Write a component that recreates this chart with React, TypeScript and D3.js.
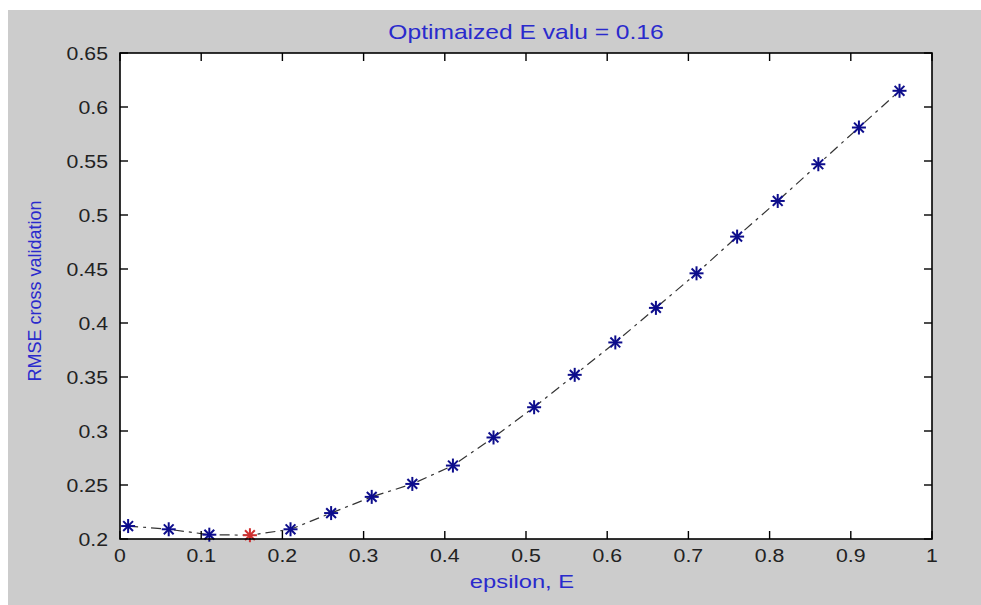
import React from "react";
import * as d3 from "d3";

const epsilonValues = [0.01, 0.06, 0.11, 0.16, 0.21, 0.26, 0.31, 0.36, 0.41, 0.46, 0.51, 0.56, 0.61, 0.66, 0.71, 0.76, 0.81, 0.86, 0.91, 0.96];
const rmseValues = [0.212, 0.209, 0.204, 0.2035, 0.209, 0.224, 0.239, 0.251, 0.268, 0.294, 0.322, 0.352, 0.382, 0.414, 0.446, 0.480, 0.513, 0.547, 0.581, 0.615];
const optimalEpsilon = 0.16;
const xTicks = [0, 0.1, 0.2, 0.3, 0.4, 0.5, 0.6, 0.7, 0.8, 0.9, 1];
const yTicks = [0.2, 0.25, 0.3, 0.35, 0.4, 0.45, 0.5, 0.55, 0.6, 0.65];
const titleText = "Optimaized E valu = 0.16";
const xLabelText = "epsilon, E";
const yLabelText = "RMSE cross validation";

const W = 981;
const H = 605;
const left = 120, right = 932, top = 53, bottom = 539;
const FONT = "'Liberation Sans', Arial, sans-serif";
const BLUE_TEXT = "#2a2acc";
const MARK = "#0d0d8c";
const RED = "#d03030";

function Star({ x, y, color }: { x: number; y: number; color: string }) {
  const r = 7;
  const d = r * 0.7;
  return (
    <g stroke={color} strokeWidth={2}>
      <line x1={x - r} y1={y} x2={x + r} y2={y} />
      <line x1={x} y1={y - r} x2={x} y2={y + r} />
      <line x1={x - d} y1={y - d} x2={x + d} y2={y + d} />
      <line x1={x - d} y1={y + d} x2={x + d} y2={y - d} />
      <circle cx={x} cy={y} r={2} fill={color} stroke="none" />
    </g>
  );
}

function SText({ x, y, sx = 1, children, ...rest }: any) {
  return (
    <text transform={`translate(${x},${y}) scale(${sx},1)`} fontFamily={FONT} {...rest}>
      {children}
    </text>
  );
}

export default function App() {
  const xScale = d3.scaleLinear().domain([0, 1]).range([left, right]);
  const yScale = d3.scaleLinear().domain([0.2, 0.65]).range([bottom, top]);
  const pts = epsilonValues.map((e, i) => [e, rmseValues[i]] as [number, number]);
  const line = d3
    .line<[number, number]>()
    .x((d) => xScale(d[0]))
    .y((d) => yScale(d[1]));
  const tl = 8;
  return (
    <svg width={W} height={H} style={{ position: "absolute", left: 0, top: 0 }}>
      <rect x={0} y={0} width={W} height={H} fill="#ffffff" />
      <rect x={8} y={10} width={W - 8} height={H - 10} fill="#cccccc" />
      <rect x={left} y={top} width={right - left} height={bottom - top} fill="#ffffff" />
      <path d={line(pts) || ""} fill="none" stroke="#333" strokeWidth={1.2} strokeDasharray="10,5,3,5" />
      {pts.map((p, i) => (
        <Star key={i} x={xScale(p[0])} y={yScale(p[1])} color={p[0] === optimalEpsilon ? RED : MARK} />
      ))}
      <rect x={left} y={top} width={right - left} height={bottom - top} fill="none" stroke="#000" strokeWidth={1.6} />
      {xTicks.map((t) => (
        <g key={"x" + t}>
          <line x1={xScale(t)} x2={xScale(t)} y1={bottom} y2={bottom - tl} stroke="#000" strokeWidth={1.4} />
          <line x1={xScale(t)} x2={xScale(t)} y1={top} y2={top + tl} stroke="#000" strokeWidth={1.4} />
          <SText x={xScale(t)} y={562} sx={1.12} fontSize={19} textAnchor="middle" fill="#222">
            {String(t)}
          </SText>
        </g>
      ))}
      {yTicks.map((t) => (
        <g key={"y" + t}>
          <line x1={left} x2={left + tl} y1={yScale(t)} y2={yScale(t)} stroke="#000" strokeWidth={1.4} />
          <line x1={right} x2={right - tl} y1={yScale(t)} y2={yScale(t)} stroke="#000" strokeWidth={1.4} />
          <SText x={108} y={yScale(t) + 7} sx={1.12} fontSize={19} textAnchor="end" fill="#222">
            {String(t)}
          </SText>
        </g>
      ))}
      <SText x={(left + right) / 2} y={39} sx={1.2} fontSize={20.5} textAnchor="middle" fill={BLUE_TEXT}>
        {titleText}
      </SText>
      <SText x={522} y={588} sx={1.32} fontSize={18} textAnchor="middle" fill={BLUE_TEXT}>
        {xLabelText}
      </SText>
      <text
        transform={`translate(41,${(top + bottom) / 2 - 5}) rotate(-90)`}
        fontFamily={FONT}
        fontSize={18}
        textAnchor="middle"
        fill={BLUE_TEXT}
      >
        {yLabelText}
      </text>
    </svg>
  );
}
